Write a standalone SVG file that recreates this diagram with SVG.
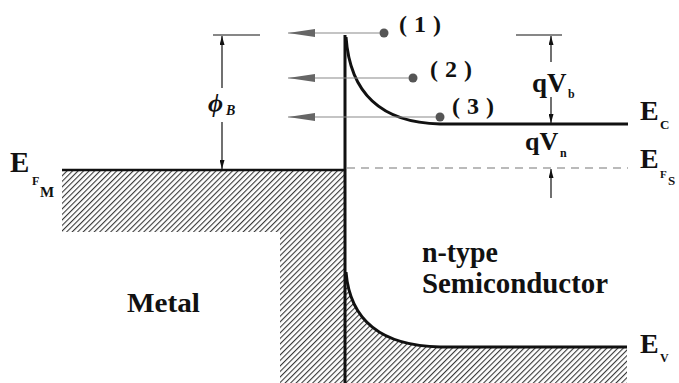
<svg xmlns="http://www.w3.org/2000/svg" width="679" height="383" viewBox="0 0 679 383">
<defs>
<pattern id="hatch" width="3.9" height="10" patternUnits="userSpaceOnUse" patternTransform="rotate(45)">
<line x1="0.6" y1="0" x2="0.6" y2="10" stroke="#222" stroke-width="1"/>
</pattern>
<marker id="gray" viewBox="0 0 27 8" refX="27" refY="4" markerWidth="27" markerHeight="8" markerUnits="userSpaceOnUse" orient="auto">
<path d="M0,0 L27,4 L0,8 Z" fill="#666"/>
</marker>
<marker id="blk" viewBox="0 0 9 5" refX="9" refY="2.5" markerWidth="9" markerHeight="5" markerUnits="userSpaceOnUse" orient="auto">
<path d="M0,0 L9,2.5 L0,5 Z" fill="#111"/>
</marker>
</defs>
<rect width="679" height="383" fill="#fff"/>

<g id="metal">
<path d="M62,170 L345,170 L345,383 L280,383 L280,232 L62,232 Z" fill="url(#hatch)"/>
<line x1="62" y1="170" x2="346" y2="170" stroke="#111" stroke-width="2.5"/>
<text x="127" y="312" font-family="Liberation Serif, Times New Roman, DejaVu Serif, serif" font-weight="bold" fill="#111" font-size="28" textLength="73" lengthAdjust="spacingAndGlyphs">Metal</text>
</g>

<g id="semiconductor">
<path d="M346,272 Q352,345 440,347 L627,347 L627,383 L346,383 Z" fill="url(#hatch)"/>
<g fill="none" stroke="#111" stroke-width="3">
<path d="M346,37 Q352,122 440,124 L628,124"/>
<path d="M346,272 Q352,345 440,347 L627,347"/>
</g>
<line x1="347" y1="168" x2="628" y2="168" stroke="#777" stroke-width="1.1" stroke-dasharray="8,6"/>
<text x="422" y="262" font-family="Liberation Serif, Times New Roman, DejaVu Serif, serif" font-weight="bold" fill="#111" font-size="30" textLength="76" lengthAdjust="spacingAndGlyphs">n-type</text>
<text x="422" y="293" font-family="Liberation Serif, Times New Roman, DejaVu Serif, serif" font-weight="bold" fill="#111" font-size="30" textLength="186" lengthAdjust="spacingAndGlyphs">Semiconductor</text>
</g>

<g id="interface">
<line x1="345" y1="35" x2="345" y2="383" stroke="#111" stroke-width="3"/>
</g>

<g id="labels" font-family="Liberation Serif, Times New Roman, DejaVu Serif, serif" font-weight="bold" fill="#111">
<text x="10" y="172" font-size="29">E</text>
<text x="32" y="185" font-size="12">F</text>
<text x="40" y="197" font-size="15">M</text>
<text x="640" y="120" font-size="28">E</text>
<text x="660" y="129" font-size="13">C</text>
<text x="640" y="168" font-size="28">E</text>
<text x="660" y="178" font-size="11">F</text>
<text x="668" y="185" font-size="13">S</text>
<text x="640" y="353" font-size="28">E</text>
<text x="660" y="362" font-size="12">V</text>
<text x="208" y="112" font-size="26" font-style="italic">ϕ</text>
<text x="226" y="115" font-size="14" font-style="italic">B</text>
<text x="532" y="92" font-size="27">qV</text>
<text x="568" y="98" font-size="12">b</text>
<text x="525" y="150" font-size="26">qV</text>
<text x="560" y="157" font-size="12">n</text>
</g>

<g id="process-1">
<text x="399" y="32" font-family="Liberation Serif, Times New Roman, DejaVu Serif, serif" font-weight="bold" fill="#111" font-size="24" letter-spacing="7">(1)</text>
<circle cx="384" cy="33" r="4.5" fill="#555"/>
</g>
<g id="process-2">
<text x="430" y="77" font-family="Liberation Serif, Times New Roman, DejaVu Serif, serif" font-weight="bold" fill="#111" font-size="24" letter-spacing="7">(2)</text>
<circle cx="413" cy="78" r="4.5" fill="#555"/>
</g>
<g id="process-3">
<text x="452" y="114" font-family="Liberation Serif, Times New Roman, DejaVu Serif, serif" font-weight="bold" fill="#111" font-size="24" letter-spacing="7">(3)</text>
<circle cx="440" cy="117" r="4.5" fill="#555"/>
</g>

<g id="connectors">
<g stroke="#8a8a8a" stroke-width="1.2" fill="none">
<line x1="380" y1="33" x2="288" y2="33" marker-end="url(#gray)"/>
<line x1="409" y1="78" x2="288" y2="78" marker-end="url(#gray)"/>
<line x1="436" y1="117" x2="288" y2="117" marker-end="url(#gray)"/>
</g>
<g stroke="#111" stroke-width="1.2" fill="none">
<line x1="213" y1="35" x2="260" y2="35"/>
<line x1="222" y1="88" x2="222" y2="36" marker-end="url(#blk)"/>
<line x1="222" y1="122" x2="222" y2="169" marker-end="url(#blk)"/>
<line x1="516" y1="35" x2="562" y2="35"/>
<line x1="551" y1="62" x2="551" y2="36" marker-end="url(#blk)"/>
<line x1="551" y1="97" x2="551" y2="123" marker-end="url(#blk)"/>
<line x1="551" y1="198" x2="551" y2="169" marker-end="url(#blk)"/>
</g>
</g>
</svg>
